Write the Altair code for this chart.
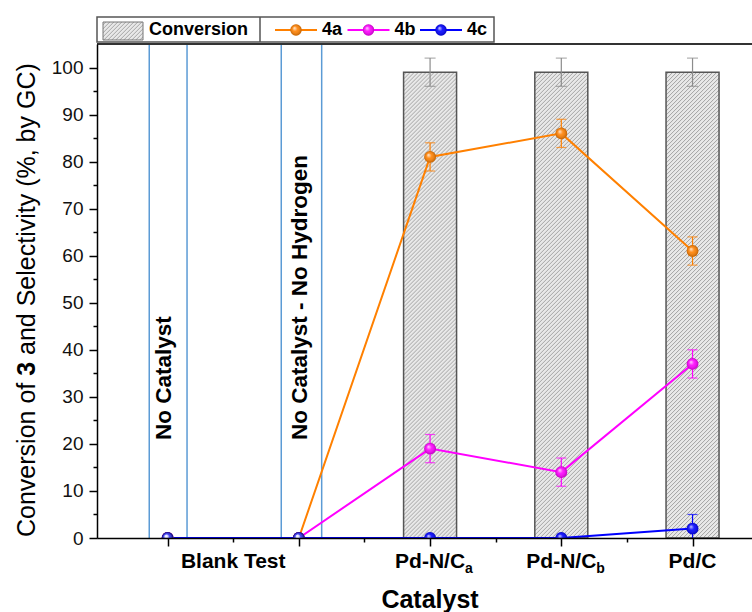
import altair as alt
import pandas as pd

# ---------------- data ----------------
positions = [1, 2, 3, 4, 5]
catalysts = ["No Catalyst", "No Catalyst - No Hydrogen", "Pd-N/Ca", "Pd-N/Cb", "Pd/C"]
conversion = [None, None, 99, 99, 99]
conversion_err = [None, None, 3, 3, 3]

series_names = ["4a", "4b", "4c"]
series_colors = ["#ff8000", "#ff00ff", "#0000ff"]
sel_4a = [0, 0, 81, 86, 61]
sel_4a_err = [0, 0, 3, 3, 3]
sel_4b = [0, 0, 19, 14, 37]
sel_4b_err = [0, 0, 3, 3, 3]
sel_4c = [0, 0, 0, 0, 2]
sel_4c_err = [0, 0, 0, 0, 3]

tick_label_pos = [1.5, 3, 4, 5]
tick_label_main = ["Blank Test", "Pd-N/C", "Pd-N/C", "Pd/C"]
tick_label_sub = ["", "a", "b", ""]

annot_pos = [0.975, 2.005]
annot_text = ["No Catalyst", "No Catalyst - No Hydrogen"]
guide_pos = [0.86, 1.148, 1.866, 2.174]

x_ticks = [1, 1.5, 2, 2.5, 3, 3.5, 4, 4.5, 5]
y_ticks = [0, 5, 10, 15, 20, 25, 30, 35, 40, 45, 50, 55, 60, 65, 70, 75, 80, 85, 90, 95, 100]

# ---------------- layout ----------------
W, H = 655, 494
FONT = "Liberation Sans"

conv_df = pd.DataFrame({"pos": positions, "conv": conversion, "err": conversion_err}).dropna()
conv_df["lo"] = conv_df["conv"] - conv_df["err"]
conv_df["hi"] = conv_df["conv"] + conv_df["err"]

rows = []
for name, vals, errs in zip(series_names, [sel_4a, sel_4b, sel_4c], [sel_4a_err, sel_4b_err, sel_4c_err]):
    for p, v, e in zip(positions, vals, errs):
        rows.append({"series": name, "pos": p, "value": v, "err": e, "lo": v - e, "hi": v + e})
ser_df = pd.DataFrame(rows)
err_df = ser_df[ser_df["err"] > 0]

tl_df = pd.DataFrame({"pos": tick_label_pos, "main": tick_label_main, "sub": tick_label_sub})
an_df = pd.DataFrame({"pos": annot_pos, "text": annot_text})
gd_df = pd.DataFrame({"pos": guide_pos})
one = pd.DataFrame({"a": [0]})


def hatch(w, h, period=4.0, light="#e8e8e8", dark="#a4a4a4"):
    k = (w + h) / (w * w + h * h)
    p = period / (w + h)
    stops = []
    n = int(1 / p) + 2
    for i in range(n):
        o = i * p
        for frac, col in [(0, light), (0.45, light), (0.7, dark), (0.95, light)]:
            off = o + frac * p
            if off <= 1:
                stops.append({"offset": round(off, 6), "color": col})
    return {"gradient": "linear", "x1": 0, "y1": 0, "x2": w * k, "y2": h * k, "stops": stops}


bar_h = 99 / 105 * H
bar_fill = hatch(53, bar_h)
swatch_fill = hatch(40, 18)
ball = {
    "gradient": "radial", "x1": 0.35, "y1": 0.32, "r1": 0, "x2": 0.5, "y2": 0.5, "r2": 0.5,
    "stops": [
        {"offset": 0, "color": "rgba(255,255,255,0.85)"},
        {"offset": 0.45, "color": "rgba(255,255,255,0.1)"},
        {"offset": 1, "color": "rgba(0,0,0,0.25)"},
    ],
}

xs = alt.Scale(domain=[0.5, 5.415], nice=False, zero=False)
ys = alt.Scale(domain=[0, 105], nice=False, zero=False)
x_axis = alt.Axis(
    values=x_ticks, labels=False, title=None, grid=False, zindex=1,
    tickSize={"condition": {"test": "datum.value % 1 === 0", "value": 8}, "value": 4},
    domainColor="black", domainWidth=1.5, tickColor="black", tickWidth=1.5,
)
y_axis = alt.Axis(
    values=y_ticks, title=None, grid=False, zindex=1, labelOverlap=False,
    labelExpr="datum.value % 10 === 0 ? datum.label : ''",
    tickSize={"condition": {"test": "datum.value % 10 === 0", "value": 8}, "value": 4},
    domainColor="black", domainWidth=1.5, tickColor="black", tickWidth=1.5,
    labelFont=FONT, labelFontSize=19, labelColor="#111", labelPadding=6,
)
X = alt.X("pos:Q", scale=xs, axis=x_axis)
color = alt.Color("series:N", scale=alt.Scale(domain=series_names, range=series_colors), legend=None)

guides = alt.Chart(gd_df).mark_rule(color="#5b9bd5", strokeWidth=1.5).encode(
    x=X, y=alt.value(0), y2=alt.value(H))

bars = alt.Chart(conv_df).mark_bar(width=53, fill=bar_fill, stroke="#555555", strokeWidth=1.5).encode(
    x=X, y=alt.Y("conv:Q", scale=ys, axis=y_axis))

conv_rule = alt.Chart(conv_df).mark_rule(color="#8c8c8c", strokeWidth=1.2).encode(
    x=X, y=alt.Y("lo:Q", scale=ys, axis=y_axis), y2="hi:Q")
conv_caps = alt.Chart(conv_df).transform_fold(["lo", "hi"], as_=["k", "yv"]).mark_tick(
    orient="horizontal", size=11, thickness=1.2, color="#8c8c8c").encode(
    x=X, y=alt.Y("yv:Q", scale=ys, axis=y_axis))

lines = alt.Chart(ser_df).mark_line(clip=True, strokeWidth=2).encode(
    x=X, y=alt.Y("value:Q", scale=ys, axis=y_axis), color=color, detail="series:N")

err_rule = alt.Chart(err_df).mark_rule(clip=True, strokeWidth=1.2).encode(
    x=X, y=alt.Y("lo:Q", scale=ys, axis=y_axis), y2="hi:Q", color=color)
err_caps = alt.Chart(err_df).transform_fold(["lo", "hi"], as_=["k", "yv"]).mark_tick(
    clip=True, orient="horizontal", size=10, thickness=1.2).encode(
    x=X, y=alt.Y("yv:Q", scale=ys, axis=y_axis), color=color)

points = alt.Chart(ser_df).mark_point(clip=True, filled=True, shape="circle", size=140, opacity=1).encode(
    x=X, y=alt.Y("value:Q", scale=ys, axis=y_axis), color=color)
shine = alt.Chart(ser_df).mark_point(clip=True, shape="circle", size=140, fill=ball, strokeWidth=0, opacity=1).encode(
    x=X, y=alt.Y("value:Q", scale=ys, axis=y_axis))

annots = alt.Chart(an_df).mark_text(angle=270, align="left", baseline="middle", font=FONT,
                                     fontSize=22.5, fontWeight="bold", color="black").encode(
    x=X, y=alt.value(396), text="text:N")

tick_main = alt.Chart(tl_df).mark_text(align="center", baseline="middle", font=FONT, fontSize=21,
                                       fontWeight="bold", color="black").encode(
    x=X, y=alt.value(H + 24), text="main:N")
tick_sub = alt.Chart(tl_df).mark_text(align="left", baseline="middle", font=FONT, fontSize=14,
                                      fontWeight="bold", color="black", dx=35, dy=7).encode(
    x=X, y=alt.value(H + 24), text="sub:N")

x_title = alt.Chart(one).mark_text(align="center", baseline="alphabetic", font=FONT, fontSize=25,
                                   fontWeight="bold", color="black").encode(
    x=alt.value(333), y=alt.value(H + 70), text=alt.value("Catalyst"))

yt_kw = dict(angle=270, align="left", baseline="middle", font=FONT, fontSize=25, color="black")
yt1 = alt.Chart(one).mark_text(**yt_kw).encode(x=alt.value(-70), y=alt.value(493), text=alt.value("Conversion of"))
yt2 = alt.Chart(one).mark_text(fontWeight="bold", **yt_kw).encode(x=alt.value(-70), y=alt.value(331.8), text=alt.value("3"))
yt3 = alt.Chart(one).mark_text(**yt_kw).encode(x=alt.value(-70), y=alt.value(311), text=alt.value("and Selectivity (%, by GC)"))

top_line = alt.Chart(one).mark_rule(color="#333333", strokeWidth=2).encode(
    x=alt.value(0), x2=alt.value(W), y=alt.value(0))

# ---------------- legend ----------------
leg_box = alt.Chart(one).mark_rect(fill="white", stroke="#555555", strokeWidth=1.5).encode(
    x=alt.value(0), x2=alt.value(397), y=alt.value(-27), y2=alt.value(-2))
leg_div = alt.Chart(one).mark_rule(color="#555555", strokeWidth=1.5).encode(
    x=alt.value(163), y=alt.value(-27), y2=alt.value(-2))
leg_swatch = alt.Chart(one).mark_rect(fill=swatch_fill, stroke="#777777", strokeWidth=1).encode(
    x=alt.value(6), x2=alt.value(46), y=alt.value(-22), y2=alt.value(-4))
leg_conv = alt.Chart(one).mark_text(align="left", baseline="middle", font=FONT, fontSize=18,
                                    fontWeight="bold", color="black").encode(
    x=alt.value(52), y=alt.value(-14), text=alt.value("Conversion"))

leg_df = pd.DataFrame({"series": series_names, "i": list(range(len(series_names)))})
leg_base = alt.Chart(leg_df).transform_calculate(
    lx0="178 + 72.5 * datum.i", lx1="220 + 72.5 * datum.i",
    lxc="199 + 72.5 * datum.i", ltx="225 + 72.5 * datum.i")
leg_lines = leg_base.mark_rule(strokeWidth=2).encode(
    x=alt.X("lx0:Q", scale=None), x2="lx1:Q", y=alt.value(-14), color=color)
leg_pts = leg_base.mark_point(filled=True, shape="circle", size=130, opacity=1).encode(
    x=alt.X("lxc:Q", scale=None), y=alt.value(-14), color=color)
leg_shine = leg_base.mark_point(shape="circle", size=130, fill=ball, strokeWidth=0, opacity=1).encode(
    x=alt.X("lxc:Q", scale=None), y=alt.value(-14))
leg_txt = leg_base.mark_text(align="left", baseline="middle", font=FONT, fontSize=18,
                             fontWeight="bold", color="black").encode(
    x=alt.X("ltx:Q", scale=None), y=alt.value(-14), text="series:N")

chart = alt.layer(
    guides, bars, conv_rule, conv_caps, lines, err_rule, err_caps, points, shine,
    annots, tick_main, tick_sub, x_title, yt1, yt2, yt3, top_line,
    leg_box, leg_div, leg_swatch, leg_conv, leg_lines, leg_pts, leg_shine, leg_txt,
).properties(
    width=W, height=H,
    autosize=alt.AutoSizeParams(type="none"),
    padding={"left": 97, "top": 44, "right": 0, "bottom": 74},
).configure_view(stroke=None).configure(font=FONT, background="white")

chart.save("out.html", embed_options={"renderer": "svg", "actions": False})
